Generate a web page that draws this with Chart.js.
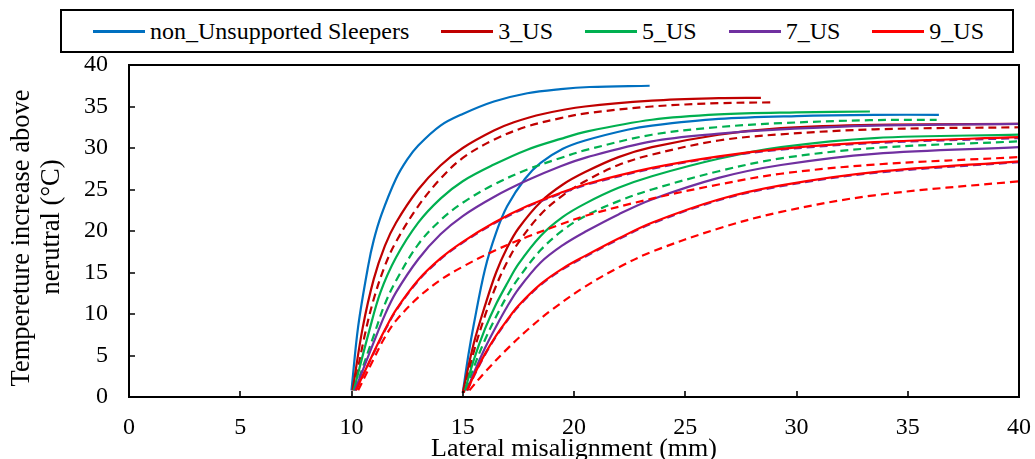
<!DOCTYPE html>
<html>
<head>
<meta charset="utf-8">
<script src="https://cdn.jsdelivr.net/npm/chart.js@4.4.1/dist/chart.umd.min.js"></script>
<style>
  html, body { margin: 0; padding: 0; background: #fff; }
  #wrap { position: relative; width: 1035px; height: 459px; }
  #legend {
    position: absolute; left: 60px; top: 9px; width: 954px; height: 44px;
    box-sizing: border-box; border: 2px solid #000; background: #fff;
    display: flex; align-items: center; justify-content: flex-start;
    padding-left: 31px; gap: 32px;
    font-family: 'Liberation Serif', 'Times New Roman', serif; font-size: 24px; color: #000;
  }
  .item { display: flex; align-items: center; white-space: nowrap; }
  .swatch { display: inline-block; width: 52px; height: 3px; margin-right: 5px; }
</style>
</head>
<body>
<div id="wrap">
  <canvas id="c" width="1035" height="459"></canvas>
  <div id="legend"></div>
</div>
<script>
// ---- Legend / series labels ----
const legendLabels = ['non_Unsupported Sleepers', '3_US', '5_US', '7_US', '9_US'];
const legendColors = ['#0070C0', '#C00000', '#00B050', '#7030A0', '#FF0000'];

// ---- Axis ticks and titles ----
const xTickValues = [0, 5, 10, 15, 20, 25, 30, 35, 40];
const yTickValues = [0, 5, 10, 15, 20, 25, 30, 35, 40];
const xTitle = 'Lateral misalignment (mm)';
const yTitleLines = ['Tempereture increase above', 'nerutral (\u00B0C)'];

// ---- Group starting at 10 mm ----
const blueA_x = [10.0, 10.3, 10.75, 11.0, 11.35, 12.0, 12.5, 13.0, 14.0, 15.0, 16.4, 17.9, 19.4, 20.7, 23.4];
const blueA_y = [0.8, 8.5, 15.8, 18.9, 22.0, 26.3, 28.6, 30.3, 32.7, 34.1, 35.6, 36.6, 37.1, 37.35, 37.5];

const us3A_x = [10.05, 10.5, 11.0, 11.5, 12.0, 13.0, 14.0, 15.0, 16.4, 17.3, 18.6, 20.5, 23.5, 26.5, 28.4];
const us3A_y = [0.8, 8.3, 14.2, 18.2, 21.0, 25.0, 27.9, 30.0, 32.1, 33.1, 34.1, 35.0, 35.7, 36.0, 36.05];
const us3Ad_x = [10.1, 10.6, 11.0, 11.5, 12.0, 13.0, 14.0, 15.0, 16.4, 17.9, 19.4, 20.6, 23.5, 26.5, 28.9];
const us3Ad_y = [0.8, 7.5, 11.8, 15.8, 18.7, 23.0, 26.3, 28.8, 31.0, 32.6, 33.6, 34.2, 35.0, 35.4, 35.5];

const us5A_x = [10.1, 10.8, 11.3, 12.0, 13.0, 14.0, 15.0, 16.4, 17.9, 19.4, 20.6, 23.5, 26.5, 30.0, 33.3];
const us5A_y = [0.8, 8.0, 12.6, 16.8, 21.0, 23.9, 26.0, 28.0, 29.8, 31.1, 32.0, 33.4, 34.05, 34.3, 34.4];
const us5Ad_x = [10.15, 11.0, 11.5, 12.0, 13.0, 14.0, 15.0, 16.4, 17.9, 19.4, 20.6, 23.5, 26.4, 29.3, 33.3, 36.3];
const us5Ad_y = [0.8, 7.4, 11.2, 14.0, 18.4, 21.3, 23.4, 25.6, 27.4, 28.8, 29.8, 31.6, 32.5, 33.0, 33.35, 33.4];

const us7A_x = [10.15, 11.0, 11.5, 12.0, 13.0, 14.0, 15.0, 16.4, 17.9, 19.4, 20.6, 23.5, 26.4, 29.3, 33.5, 40.0];
const us7A_y = [0.8, 6.6, 9.9, 12.6, 16.6, 19.6, 21.8, 24.1, 26.1, 27.8, 28.9, 30.8, 31.7, 32.25, 32.7, 32.9];
const us7Ad_x = [10.2, 11.0, 11.5, 12.0, 13.0, 14.0, 15.0, 16.4, 17.9, 19.4, 20.6, 23.5, 26.5, 29.3, 33.5, 40.0];
const us7Ad_y = [0.8, 5.3, 8.0, 10.4, 14.0, 16.6, 18.6, 20.9, 22.9, 24.5, 25.6, 27.5, 28.9, 29.8, 30.6, 31.2];

const us9A_x = [10.2, 11.0, 11.5, 12.0, 13.0, 14.0, 15.0, 16.4, 17.9, 19.4, 20.6, 23.5, 26.5, 29.3, 33.5, 40.0];
const us9A_y = [0.8, 5.4, 8.1, 10.5, 14.1, 16.7, 18.7, 21.0, 23.0, 24.6, 25.7, 27.6, 29.0, 29.9, 30.7, 31.3];
const us9Ad_x = [10.3, 11.0, 11.5, 12.0, 13.0, 14.0, 15.0, 16.4, 17.9, 19.4, 20.6, 23.5, 26.5, 29.3, 33.5, 40.0];
const us9Ad_y = [0.8, 4.6, 7.2, 9.2, 12.0, 14.1, 15.7, 17.6, 19.3, 20.8, 21.9, 23.9, 25.6, 26.9, 28.0, 28.9];

// ---- Group starting at 15 mm ----
const blueB_x = [15.0, 15.25, 15.5, 16.0, 16.5, 17.0, 17.8, 18.5, 19.5, 20.5, 22.4, 23.5, 26.5, 30.0, 33.5, 36.4];
const blueB_y = [0.5, 5.0, 8.8, 15.4, 19.8, 23.0, 26.3, 28.2, 29.9, 30.9, 32.2, 32.7, 33.5, 33.85, 34.0, 34.0];

const us3B_x = [15.0, 15.5, 16.0, 16.5, 17.0, 17.5, 18.5, 19.5, 20.5, 22.0, 23.5, 26.5, 29.3, 33.5, 40.0];
const us3B_y = [0.5, 6.5, 11.0, 15.0, 18.0, 20.3, 23.5, 25.6, 27.1, 28.9, 30.1, 31.6, 32.4, 32.8, 32.9];
const us3Bd_x = [15.05, 15.5, 16.0, 16.5, 17.0, 17.5, 18.5, 19.5, 20.5, 22.0, 23.5, 26.5, 29.3, 33.5, 40.0];
const us3Bd_y = [0.5, 5.5, 9.8, 13.4, 16.3, 18.6, 22.0, 24.3, 26.0, 27.95, 29.2, 30.9, 31.65, 32.25, 32.5];

const us5B_x = [15.1, 15.5, 16.0, 16.5, 17.0, 17.5, 18.5, 19.5, 20.5, 22.0, 23.5, 26.5, 29.3, 33.5, 40.0];
const us5B_y = [0.8, 4.5, 8.2, 11.2, 13.7, 16.0, 19.4, 21.7, 23.3, 25.2, 26.6, 28.7, 30.1, 31.2, 31.6];
const us5Bd_x = [15.15, 15.5, 16.0, 16.5, 17.0, 17.5, 18.5, 19.5, 20.5, 22.0, 23.5, 26.5, 29.3, 33.5, 40.0];
const us5Bd_y = [0.8, 3.6, 6.9, 9.7, 12.2, 14.3, 17.7, 20.1, 21.8, 23.6, 25.0, 27.2, 28.75, 30.0, 30.8];

const us7B_x = [15.2, 15.5, 16.0, 16.5, 17.0, 17.5, 18.5, 19.5, 20.5, 22.0, 23.5, 26.5, 29.3, 33.5, 40.0];
const us7B_y = [0.8, 2.9, 5.9, 8.5, 10.9, 13.0, 16.2, 18.3, 19.9, 22.0, 23.8, 26.4, 27.95, 29.3, 30.1];
const us7Bd_x = [15.2, 15.5, 16.0, 16.5, 17.0, 17.5, 18.5, 19.5, 20.5, 22.0, 23.5, 26.5, 29.3, 33.5, 40.0];
const us7Bd_y = [0.8, 2.5, 5.1, 7.3, 9.2, 10.9, 13.5, 15.4, 16.9, 19.0, 20.9, 23.7, 25.4, 27.0, 28.3];

const us9B_x = [15.2, 15.5, 16.0, 16.5, 17.0, 17.5, 18.5, 19.5, 20.5, 22.0, 23.5, 26.5, 29.3, 33.5, 40.0];
const us9B_y = [0.8, 2.6, 5.2, 7.4, 9.3, 11.0, 13.6, 15.5, 17.0, 19.1, 21.0, 23.8, 25.5, 27.1, 28.4];
const us9Bd_x = [15.3, 16.0, 17.0, 18.0, 19.0, 20.5, 22.0, 23.5, 26.5, 29.3, 33.5, 40.0];
const us9Bd_y = [0.8, 3.0, 5.8, 8.3, 10.5, 13.3, 15.6, 17.5, 20.3, 22.3, 24.3, 26.0];

// ---- Build datasets ----
const pts = (xs, ys) => xs.map((x, i) => ({ x: x, y: ys[i] }));
const DASH = [8, 5];
function ds(label, xs, ys, color, dashed, order) {
  return {
    label: label, data: pts(xs, ys), borderColor: color, backgroundColor: color,
    borderWidth: 2.2, borderDash: dashed ? DASH : [], showLine: true, pointRadius: 0,
    pointHoverRadius: 0, tension: 0.35, fill: false, order: order
  };
}
const C = legendColors;
const datasets = [
  ds(legendLabels[0], blueA_x, blueA_y, C[0], false, 5),
  ds(legendLabels[0], blueB_x, blueB_y, C[0], false, 5),
  ds(legendLabels[1], us3A_x, us3A_y, C[1], false, 4),
  ds(legendLabels[1], us3Ad_x, us3Ad_y, C[1], true, 4),
  ds(legendLabels[1], us3B_x, us3B_y, C[1], false, 4),
  ds(legendLabels[1], us3Bd_x, us3Bd_y, C[1], true, 4),
  ds(legendLabels[2], us5A_x, us5A_y, C[2], false, 3),
  ds(legendLabels[2], us5Ad_x, us5Ad_y, C[2], true, 3),
  ds(legendLabels[2], us5B_x, us5B_y, C[2], false, 3),
  ds(legendLabels[2], us5Bd_x, us5Bd_y, C[2], true, 3),
  ds(legendLabels[3], us7A_x, us7A_y, C[3], false, 2),
  ds(legendLabels[3], us7Ad_x, us7Ad_y, C[3], true, 2),
  ds(legendLabels[3], us7B_x, us7B_y, C[3], false, 2),
  ds(legendLabels[3], us7Bd_x, us7Bd_y, C[3], true, 2),
  ds(legendLabels[4], us9A_x, us9A_y, C[4], false, 0),
  ds(legendLabels[4], us9Ad_x, us9Ad_y, C[4], true, 0),
  ds(legendLabels[4], us9B_x, us9B_y, C[4], false, 0),
  ds(legendLabels[4], us9Bd_x, us9Bd_y, C[4], true, 0)
];

// ---- HTML legend ----
const leg = document.getElementById('legend');
legendLabels.forEach((t, i) => {
  const it = document.createElement('div'); it.className = 'item';
  const sw = document.createElement('span'); sw.className = 'swatch'; sw.style.background = legendColors[i];
  const tx = document.createElement('span'); tx.textContent = t;
  it.appendChild(sw); it.appendChild(tx); leg.appendChild(it);
});

const FONT = "'Liberation Serif', 'Times New Roman', serif";

// ---- Frame, inside ticks and the two-line y title ----
const frame = {
  id: 'frame',
  afterDatasetsDraw(chart) {
    const { ctx, chartArea: a, scales: { x, y } } = chart;
    ctx.save();
    ctx.strokeStyle = '#000';
    ctx.lineWidth = 2;
    ctx.strokeRect(a.left, a.top, a.right - a.left, a.bottom - a.top);
    ctx.lineWidth = 1.6;
    ctx.beginPath();
    x.ticks.forEach(t => { const p = Math.round(x.getPixelForValue(t.value)); ctx.moveTo(p, a.bottom); ctx.lineTo(p, a.bottom - 6); });
    y.ticks.forEach(t => { const p = Math.round(y.getPixelForValue(t.value)); ctx.moveTo(a.left, p); ctx.lineTo(a.left + 6, p); });
    ctx.stroke();
    ctx.restore();
  },
  afterDraw(chart) {
    const { ctx } = chart;
    const pos = [[22, 238], [52, 227]];
    ctx.save();
    ctx.fillStyle = '#000';
    ctx.font = '26.5px ' + FONT;
    ctx.textAlign = 'center';
    ctx.textBaseline = 'middle';
    yTitleLines.forEach((line, i) => {
      ctx.save();
      ctx.translate(pos[i][0], pos[i][1]);
      ctx.rotate(-Math.PI / 2);
      ctx.fillText(line, 0, 0);
      ctx.restore();
    });
    ctx.restore();
  }
};

Chart.defaults.font.family = FONT;
Chart.defaults.color = '#000';

new Chart(document.getElementById('c'), {
  type: 'scatter',
  data: { datasets: datasets },
  options: {
    responsive: false, animation: false, devicePixelRatio: 1,
    layout: { padding: { top: 65, right: 16, left: 0, bottom: 0 } },
    plugins: { legend: { display: false }, tooltip: { enabled: false } },
    scales: {
      x: {
        type: 'linear', min: 0, max: 40,
        afterBuildTicks: s => { s.ticks = xTickValues.map(v => ({ value: v })); },
        afterFit: s => { s.height = 62; s.paddingRight = 0; s.paddingLeft = 0; },
        grid: { display: false, drawTicks: false },
        border: { display: false },
        ticks: { font: { size: 24 }, padding: 16, maxRotation: 0 },
        title: { display: true, text: xTitle, font: { size: 26, lineHeight: 0.78 }, padding: { top: 0, bottom: 0 } }
      },
      y: {
        type: 'linear', min: 0, max: 40,
        afterBuildTicks: s => { s.ticks = yTickValues.map(v => ({ value: v })); },
        afterFit: s => { s.width = 129; },
        grid: { display: false, drawTicks: false },
        border: { display: false },
        ticks: { font: { size: 24 }, padding: 21 },
        title: { display: false }
      }
    }
  },
  plugins: [frame]
});
</script>
</body>
</html>
